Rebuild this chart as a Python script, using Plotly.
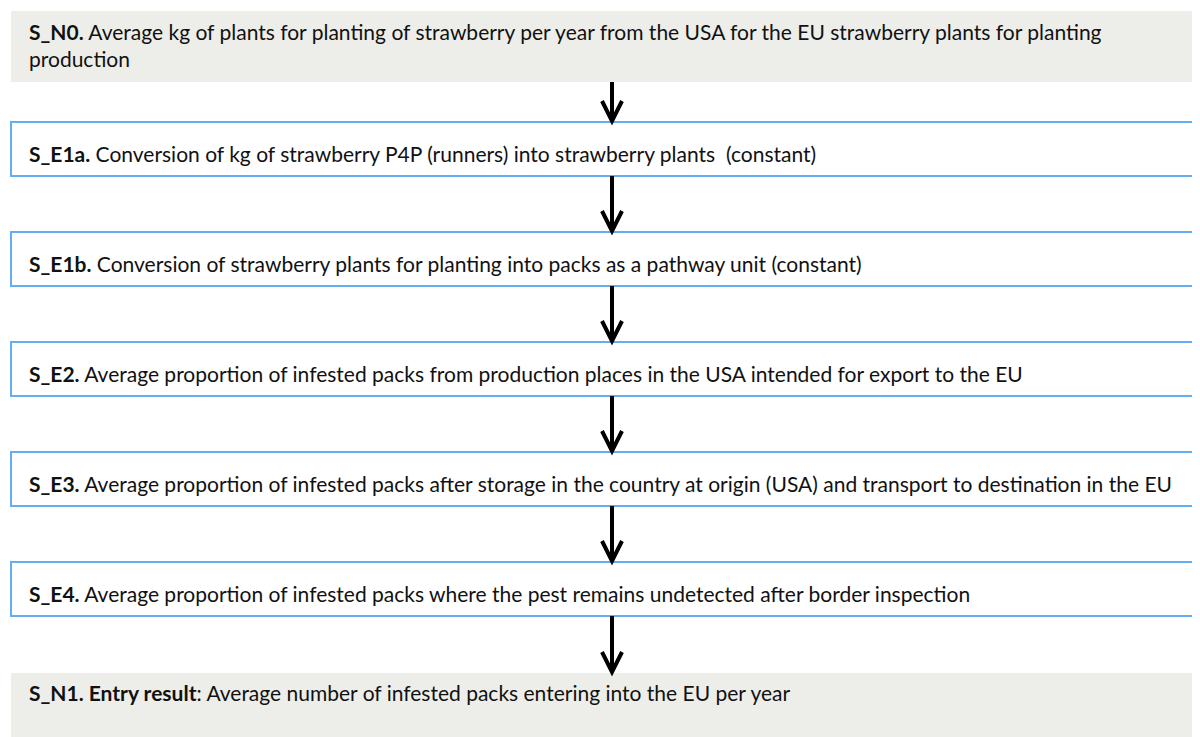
import plotly.graph_objects as go

# ---- data: the flowchart steps ----
codes = ["S_N0.", "S_E1a.", "S_E1b.", "S_E2.", "S_E3.", "S_E4.", "S_N1. Entry result"]
separators = [" ", " ", " ", " ", " ", " ", ": "]
descriptions = [
    "Average kg of plants for planting of strawberry per year from the USA for the EU strawberry plants for planting<br>production",
    "Conversion of kg of strawberry P4P (runners) into strawberry plants  (constant)",
    "Conversion of strawberry plants for planting into packs as a pathway unit (constant)",
    "Average proportion of infested packs from production places in the USA intended for export to the EU",
    "Average proportion of infested packs after storage in the country at origin (USA) and transport to destination in the EU",
    "Average proportion of infested packs where the pest remains undetected after border inspection",
    "Average number of infested packs entering into the EU per year",
]
kinds = ["node", "step", "step", "step", "step", "step", "node"]

# ---- layout (pixels, page coords minus the 8px body offset) ----
OFF = 8
W, H = 1200 - OFF, 737 - OFF
box_tops = [v - OFF for v in [11, 122, 232, 342, 452, 562, 673]]
box_bottoms = [v - OFF for v in [82, 176, 286, 396, 506, 616, 760]]
text_y = [v - OFF for v in [45, 153, 263, 373, 483, 593, 692]]
left = 11 - OFF
right = W + 30
text_x = 27 - OFF
arrow_x = 612 - OFF

GREY = "#EDEEE9"
BLUE = "#63ADF2"

shapes = []
annotations = []
for i, (c, s, d, k) in enumerate(zip(codes, separators, descriptions, kinds)):
    if k == "node":
        shapes.append(dict(type="rect", xref="x", yref="y", x0=left, x1=right,
                           y0=box_tops[i], y1=box_bottoms[i],
                           fillcolor=GREY, line=dict(width=0), layer="below"))
    else:
        shapes.append(dict(type="rect", xref="x", yref="y", x0=left, x1=right,
                           y0=box_tops[i], y1=box_bottoms[i],
                           fillcolor="white", line=dict(color=BLUE, width=2), layer="below"))
    annotations.append(dict(x=text_x, y=text_y[i], xref="x", yref="y",
                            text=f"<b>{c}</b>{s}{d}", showarrow=False,
                            xanchor="left", yanchor="middle", align="left",
                            font=dict(family="Lato", size=21, color="#111111")))

# arrows between consecutive boxes
for i in range(len(codes) - 1):
    y0 = box_bottoms[i]
    y1 = box_tops[i + 1]
    shapes.append(dict(type="line", xref="x", yref="y", x0=arrow_x, x1=arrow_x,
                       y0=y0, y1=y1 - 2, line=dict(color="black", width=4)))
    shapes.append(dict(type="path", xref="x", yref="y",
                       path=f"M {arrow_x-10} {y1-21} L {arrow_x} {y1-1} L {arrow_x+10} {y1-21}",
                       line=dict(color="black", width=4)))

fig = go.Figure()
fig.update_layout(
    width=W, height=H,
    margin=dict(l=0, r=0, t=0, b=0),
    paper_bgcolor="white", plot_bgcolor="white",
    xaxis=dict(range=[0, W], visible=False, fixedrange=True),
    yaxis=dict(range=[H, 0], visible=False, fixedrange=True),
    shapes=shapes, annotations=annotations, showlegend=False,
)
fig.write_html("out.html")
